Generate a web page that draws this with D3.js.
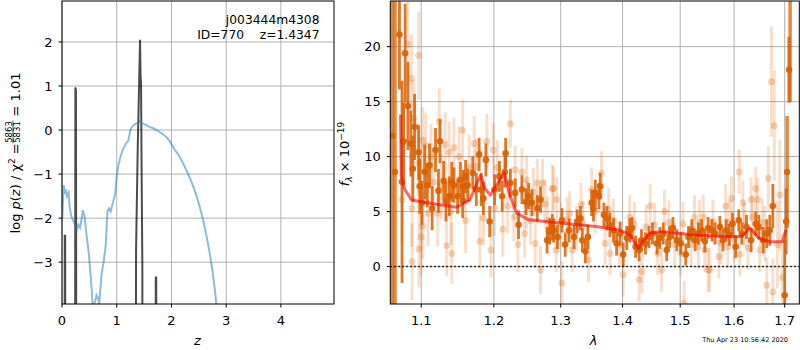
<!DOCTYPE html>
<html>
<head>
<meta charset="utf-8">
<script src="https://cdn.jsdelivr.net/npm/d3@7"></script>
<style>
body { margin: 0; background: #fff; }
svg { display: block; font-family: "DejaVu Sans", sans-serif; }
</style>
</head>
<body>
<svg id="fig" width="800" height="350"></svg>
<script>
// ---- left panel: redshift probability ----
var zTicks = [0, 1, 2, 3, 4];
var logpTicks = [-3, -2, -1, 0, 1, 2];

// broad log p(z) curve (blue)
var curveZ = [0.005, 0.03, 0.05, 0.07, 0.09, 0.12, 0.14, 0.17, 0.2, 0.24, 0.27, 0.3, 0.33, 0.36, 0.38, 0.41, 0.45, 0.49,
  0.53, 0.56, 0.6, 0.63, 0.66, 0.68, 0.72, 0.76, 0.8, 0.83, 0.86, 0.89, 0.93, 0.97, 1.0, 1.03, 1.07, 1.12, 1.17, 1.21,
  1.25, 1.28, 1.33, 1.38, 1.42, 1.46, 1.52, 1.57, 1.6, 1.67, 1.73, 1.79, 1.85, 1.91, 1.96, 2.01, 2.06, 2.12, 2.17, 2.23,
  2.28, 2.34, 2.4, 2.46, 2.52, 2.58, 2.64, 2.7, 2.75, 2.8, 2.83];
var curveLogP = [-2.0, -1.25, -1.45, -1.35, -1.5, -1.42, -1.75, -1.95, -2.05, -2.15, -2.27, -2.15, -2.22, -2.0, -1.82, -1.95, -2.4, -2.8,
  -3.4, -3.95, -3.92, -3.75, -3.82, -3.95, -3.3, -3.0, -2.6, -1.85, -1.78, -1.85, -1.65, -1.45, -1.05, -0.8, -0.6, -0.42, -0.3, -0.25,
  0.0, 0.08, 0.13, 0.16, 0.2, 0.15, 0.13, 0.09, 0.07, 0.04, 0.0, -0.05, -0.1, -0.16, -0.24, -0.34, -0.45, -0.55, -0.65, -0.8,
  -0.93, -1.1, -1.29, -1.5, -1.76, -2.05, -2.4, -2.8, -3.2, -3.7, -4.1];

// narrow spikes (black), -10 means off the bottom of the axes
var spikeZ = [0, 0.045, 0.05, 0.058, 0.063, 0.235, 0.245, 0.255, 0.265, 1.345, 1.353, 1.384, 1.426, 1.436, 1.444, 1.452,
  1.468, 1.475, 1.708, 1.713, 1.722, 1.727, 4.97];
var spikeLogP = [-10, -10, -2.4, -2.4, -10, -10, 0.97, 0.9, -10, -10, -2.75, -0.4, 2.05, 1.2, 1.1, -0.5,
  -3, -10, -10, -3.35, -3.35, -10, -10];

// ---- right panel: spectrum ----
var lamTicks = [1.1, 1.2, 1.3, 1.4, 1.5, 1.6, 1.7];
var fluxTicks = [0, 5, 10, 15, 20];

// [lambda, flux, err]
var darkPts = [
  [1.0717, 21.1, 5.0], [1.0790, 19.4, 4.5], [1.0826, 14.6, 4.0], [1.0750, 7.7, 9.2], [1.0770, 11.4, 3.5],
  [1.0864, 11.2, 3.0], [1.0890, 8.9, 3.0], [1.0913, 12.7, 3.0], [1.0966, 10.4, 2.5], [1.0980, 7.3, 2.5],
  [1.1010, 5.8, 2.0], [1.1045, 8.6, 2.5], [1.1080, 7.4, 2.0], [1.1110, 9.2, 2.0], [1.1145, 5.3, 2.0],
  [1.1190, 10.6, 2.0], [1.1230, 6.9, 2.0], [1.1250, 11.4, 2.0], [1.1300, 7.8, 1.8], [1.1330, 5.9, 1.8],
  [1.1375, 6.4, 1.8], [1.1410, 7.7, 1.8], [1.1440, 7.4, 1.6], [1.1490, 6.4, 1.6], [1.1530, 7.9, 1.6],
  [1.1560, 6.0, 1.6], [1.1570, 7.3, 1.5], [1.1600, 8.2, 1.5], [1.1630, 7.4, 1.5],
  [1.170, 8.5, 1.5], [1.175, 7.0, 1.5], [1.179, 10.2, 1.5], [1.182, 7.0, 1.5], [1.185, 6.2, 1.5],
  [1.1885, 9.7, 1.5], [1.194, 4.1, 1.4], [1.201, 7.0, 1.4], [1.208, 8.2, 1.4], [1.212, 6.4, 1.4],
  [1.216, 8.6, 1.4], [1.217, 10.3, 1.4], [1.224, 7.6, 1.3], [1.231, 6.7, 1.3], [1.236, 3.8, 1.3],
  [1.241, 7.0, 1.3], [1.247, 5.9, 1.2], [1.251, 6.4, 1.2], [1.256, 5.8, 1.2], [1.264, 5.3, 1.2],
  [1.269, 6.1, 1.2], [1.279, 2.4, 1.2], [1.283, 3.2, 1.2], [1.287, 3.6, 1.2],
  [1.289, 3.3, 1.1], [1.295, 2.7, 1.1], [1.302, 4.2, 1.1], [1.307, 2.0, 1.1], [1.313, 3.3, 1.1],
  [1.321, 2.7, 1.1], [1.326, 4.1, 1.1], [1.331, 4.4, 1.1], [1.334, 2.4, 1.1], [1.339, 1.4, 1.1],
  [1.343, 2.7, 1.1], [1.349, 5.8, 1.2], [1.352, 5.3, 1.2], [1.355, 6.7, 1.2], [1.361, 6.4, 1.2],
  [1.363, 7.3, 1.2], [1.369, 4.7, 1.1], [1.374, 4.4, 1.1], [1.379, 3.8, 1.1], [1.385, 3.3, 1.1],
  [1.390, 2.1, 1.1], [1.396, 3.0, 1.1], [1.401, 1.1, 1.1], [1.407, 2.6, 1.1], [1.412, 3.3, 1.1],
  [1.416, 3.5, 1.0], [1.422, 1.8, 1.0], [1.428, 1.5, 1.0], [1.432, 2.4, 1.0], [1.439, 2.1, 1.0],
  [1.445, 2.7, 1.0], [1.451, 3.0, 1.0], [1.459, 2.1, 1.0], [1.464, 2.6, 1.0], [1.470, 3.0, 1.0],
  [1.476, 1.5, 1.0], [1.481, 2.7, 1.0], [1.487, 3.5, 1.0], [1.494, 2.4, 1.0], [1.501, 2.1, 1.0],
  [1.510, 1.1, 1.0], [1.515, 2.7, 1.0], [1.521, 3.3, 1.0], [1.527, 2.4, 1.0], [1.533, 3.0, 1.0],
  [1.539, 3.3, 1.0], [1.545, 2.3, 1.0], [1.551, 3.5, 1.0],
  [1.558, 3.3, 1.0], [1.564, 3.0, 1.0], [1.573, 3.6, 1.0], [1.579, 2.4, 1.0], [1.585, 3.3, 1.0],
  [1.591, 2.9, 1.0], [1.597, 3.9, 1.0], [1.603, 1.8, 1.0], [1.609, 4.2, 1.0], [1.615, 3.0, 1.0],
  [1.624, 3.6, 1.1], [1.633, 2.4, 1.1], [1.642, 3.9, 1.1], [1.648, 3.6, 1.1], [1.657, 2.4, 1.2],
  [1.664, 3.0, 1.3], [1.670, 3.3, 1.4], [1.676, 5.5, 2.0], [1.700, -2.6, 5.0], [1.703, 4.1, 3.0]
];

var lightPts = [
  [1.0825, 20.2, 4], [1.0966, 19.2, 4], [1.0870, 17.1, 4], [1.0904, 13.5, 3.5], [1.1020, 11.5, 3],
  [1.1060, 11.0, 3], [1.1320, 11.1, 3], [1.1240, 13.2, 3], [1.1560, 12.4, 2.8], [1.1440, 10.8, 2.8],
  [1.1375, 10.4, 2.8], [1.1510, 10.0, 2.8], [1.1340, 1.9, 2.8], [1.1410, 1.2, 2.8], [1.0880, 0.45, 3.5],
  [1.0970, 1.6, 3.5], [1.1000, 2.7, 3.5], [1.1020, 3.7, 3], [1.0880, 5.3, 3.5], [1.0750, 6.1, 4],
  [1.0960, 9.4, 3], [1.1130, 10.0, 3], [1.1160, 7.7, 3], [1.1270, 7.3, 3], [1.1220, 4.85, 3],
  [1.1090, 4.85, 3], [1.140, 5.0, 3], [1.160, 4.2, 3], [1.165, 9.0, 3],
  [1.172, 11.2, 2.5], [1.175, 9.1, 2.5], [1.190, 11.4, 2.5], [1.199, 10.6, 2.5], [1.224, 13.0, 2.2],
  [1.201, 5.3, 2.5], [1.185, 4.4, 2.5], [1.180, 2.3, 2.5], [1.196, 1.5, 2.5], [1.213, 3.4, 2.5],
  [1.205, 9.0, 2.5], [1.220, 5.5, 2.5], [1.235, 2.0, 2.5],
  [1.231, 8.8, 2.2], [1.241, 8.6, 2.2], [1.248, 7.9, 2.2], [1.264, 7.6, 2.2], [1.272, 7.6, 2.2],
  [1.287, 7.1, 2.2], [1.248, 5.6, 2.2], [1.261, 2.1, 2.2], [1.245, 3.0, 2.2], [1.229, 4.5, 2.2],
  [1.269, -0.3, 2.2], [1.254, 4.2, 2.2], [1.276, 5.7, 2.2], [1.258, 6.8, 2.2], [1.280, 4.2, 2.2],
  [1.289, 7.1, 2], [1.294, 6.1, 2], [1.302, -1.5, 2], [1.314, 4.85, 2], [1.332, 5.6, 2],
  [1.349, 7.0, 2], [1.365, 8.5, 2], [1.371, 2.1, 2], [1.379, 1.2, 2], [1.344, 0.6, 2],
  [1.318, 1.5, 2], [1.293, 1.5, 2], [1.401, -0.75, 2], [1.412, 4.5, 2], [1.377, 5.2, 2],
  [1.355, 5.0, 2], [1.300, 3.8, 2], [1.310, 4.3, 2], [1.325, 3.5, 2], [1.335, 4.0, 2],
  [1.385, 4.2, 2], [1.395, 2.0, 2],
  [1.447, 5.5, 2], [1.472, 5.0, 2], [1.428, -1.2, 2], [1.433, -0.45, 2], [1.507, -3.3, 2],
  [1.551, -0.3, 2], [1.467, -0.3, 2], [1.526, 4.5, 2], [1.542, 4.5, 2], [1.501, 1.2, 2],
  [1.533, 1.8, 2], [1.420, 3.9, 2], [1.440, 3.6, 2], [1.455, 3.8, 2], [1.460, 1.2, 2],
  [1.480, 4.0, 2], [1.490, 2.0, 2], [1.505, 3.9, 2], [1.520, 2.0, 2], [1.535, 4.0, 2],
  [1.545, 1.5, 2], [1.560, 4.1, 2], [1.575, 2.2, 2], [1.590, 4.0, 2], [1.600, 2.5, 2],
  [1.620, 3.8, 2],
  [1.610, 8.6, 2], [1.595, 6.2, 2], [1.617, 5.8, 2], [1.633, 6.1, 2], [1.642, 7.1, 2],
  [1.646, 6.1, 2], [1.584, 5.5, 2], [1.554, -0.3, 2], [1.571, 0.9, 2], [1.611, 1.1, 2],
  [1.627, 1.7, 2], [1.650, 1.5, 2], [1.588, 1.8, 2], [1.636, 4.5, 2], [1.655, 4.0, 2.2],
  [1.660, 3.0, 2.5], [1.664, -1.7, 2.5], [1.667, 8.0, 3], [1.673, 16.8, 5], [1.679, 12.8, 5],
  [1.676, -2.3, 3], [1.685, 2.0, 4], [1.690, 6.5, 5], [1.695, -1.0, 4]
];

// noisy ends of the grism with huge error bars
var edgePts = [
  [1.0625, 11.9, 40], [1.0660, 8.6, 30], [1.705, 8.6, 5.1], [1.709, 17.9, 3.0], [1.711, 26, 11]
];

// best-fit model (red)
var modelLam = [1.073, 1.074, 1.0787, 1.0874, 1.1115, 1.147, 1.166, 1.174, 1.181, 1.188, 1.195, 1.204, 1.215,
  1.2236, 1.2334, 1.251, 1.302, 1.356, 1.394, 1.413, 1.421, 1.427, 1.436, 1.447, 1.467, 1.496, 1.526, 1.556,
  1.588, 1.614, 1.631, 1.648, 1.669, 1.696, 1.702];
var modelFlux = [13.8, 8.2, 7.0, 6.06, 5.76, 5.4, 6.06, 7.3, 8.3, 7.0, 6.5, 7.4, 8.5,
  6.36, 4.85, 4.25, 3.95, 3.64, 3.33, 2.88, 2.12, 1.67, 2.42, 3.03, 3.18, 3.03, 2.88, 2.79,
  2.73, 2.73, 3.49, 2.58, 2.27, 2.27, 3.33];

var orange = "#d95f02";
var fig = d3.select("#fig");

function minus(v) {
    return v < 0 ? "\u2212" + Math.abs(v) : String(v);
}

/*
  drawGrid / drawFrame

  box: {x0, x1, y0, y1} in pixels, x, y: scales
  Grid sits under the data, frame and ticks on top.
*/
function drawGrid(box, x, y, xt, yt) {
    var g = fig.append("g").attr("stroke", "#b0b0b0").attr("stroke-width", 1);
    g.selectAll(".gx").data(xt).enter().append("line")
        .attr("x1", function(d) { return x(d); })
        .attr("x2", function(d) { return x(d); })
        .attr("y1", box.y0).attr("y2", box.y1);
    g.selectAll(".gy").data(yt).enter().append("line")
        .attr("y1", function(d) { return y(d); })
        .attr("y2", function(d) { return y(d); })
        .attr("x1", box.x0).attr("x2", box.x1);
}

function drawFrame(box, x, y, xt, yt, xfmt, yfmt) {
    var g = fig.append("g");
    g.append("rect")
        .attr("x", box.x0).attr("y", box.y0)
        .attr("width", box.x1 - box.x0).attr("height", box.y1 - box.y0)
        .attr("fill", "none").attr("stroke", "black").attr("stroke-width", 1);
    g.selectAll(".tx").data(xt).enter().append("line")
        .attr("x1", function(d) { return x(d); })
        .attr("x2", function(d) { return x(d); })
        .attr("y1", box.y1).attr("y2", box.y1 + 3.5)
        .attr("stroke", "black");
    g.selectAll(".ty").data(yt).enter().append("line")
        .attr("y1", function(d) { return y(d); })
        .attr("y2", function(d) { return y(d); })
        .attr("x1", box.x0 - 3.5).attr("x2", box.x0)
        .attr("stroke", "black");
    g.selectAll(".lx").data(xt).enter().append("text")
        .attr("x", function(d) { return x(d); })
        .attr("y", box.y1 + 20.5)
        .attr("text-anchor", "middle")
        .attr("font-size", 13)
        .text(xfmt);
    g.selectAll(".ly").data(yt).enter().append("text")
        .attr("x", box.x0 - 9.5)
        .attr("y", function(d) { return y(d) + 4.7; })
        .attr("text-anchor", "end")
        .attr("font-size", 13)
        .text(yfmt);
}

function clipped(id, box) {
    fig.append("clipPath").attr("id", id).append("rect")
        .attr("x", box.x0).attr("y", box.y0)
        .attr("width", box.x1 - box.x0).attr("height", box.y1 - box.y0);
    return fig.append("g").attr("clip-path", "url(#" + id + ")");
}

// append tspans: [text, size, dy, italic]
function richText(t, parts) {
    parts.forEach(function(p) {
        t.append("tspan")
            .attr("font-size", p[1])
            .attr("dy", p[2] || 0)
            .attr("font-style", p[3] ? "italic" : null)
            .text(p[0]);
    });
    return t;
}

// ================= left panel =================
var LB = {x0: 62, x1: 334, y0: 1, y1: 304};
var xz = d3.scaleLinear().domain([0, 4.97]).range([LB.x0, LB.x1]);
var yz = d3.scaleLinear().domain([-3.95, 2.93]).range([LB.y1, LB.y0]);

drawGrid(LB, xz, yz, zTicks, logpTicks);
var lp = clipped("clipL", LB);

lp.append("path")
    .datum(d3.range(spikeZ.length))
    .attr("d", d3.line()
          .x(function(i) { return xz(spikeZ[i]); })
          .y(function(i) { return yz(spikeLogP[i]); }))
    .attr("fill", "none").attr("stroke", "black")
    .attr("stroke-opacity", 0.7).attr("stroke-width", 2);

lp.append("path")
    .datum(d3.range(curveZ.length))
    .attr("d", d3.line()
          .x(function(i) { return xz(curveZ[i]); })
          .y(function(i) { return yz(curveLogP[i]); }))
    .attr("fill", "none").attr("stroke", "#1f77b4")
    .attr("stroke-opacity", 0.5).attr("stroke-width", 2);

drawFrame(LB, xz, yz, zTicks, logpTicks, minus, minus);

fig.append("text").attr("x", 319.5).attr("y", 23.5)
    .attr("text-anchor", "end").attr("font-size", 12.3)
    .text("j003444m4308");
fig.append("text").attr("x", 319.5).attr("y", 39)
    .attr("text-anchor", "end").attr("font-size", 12.3)
    .style("white-space", "pre")
    .text("ID=770    z=1.4347");

fig.append("text").attr("x", 197.5).attr("y", 344.5)
    .attr("text-anchor", "middle").attr("font-size", 13)
    .attr("font-style", "italic").text("z");

// y label with a stacked fraction
var ylab = fig.append("g").attr("transform", "translate(20,153) rotate(-90)");
var partA = richText(ylab.append("text").attr("font-size", 13),
    [["log ", 13], ["p", 13, 0, true], ["(", 13], ["z", 13, 0, true], [") / ", 13],
     ["\u03c7", 13], ["2", 9, -5], [" = ", 13, 5]]);
var wA = partA.node().getComputedTextLength();
var num = ylab.append("text").attr("font-size", 8.5).attr("y", -8.2).text("5863");
var den = ylab.append("text").attr("font-size", 8.5).attr("y", 0).text("5831");
var wF = Math.max(num.node().getComputedTextLength(), den.node().getComputedTextLength()) + 1;
var partC = ylab.append("text").attr("font-size", 13).style("white-space", "pre").text(" = 1.01");
var wC = partC.node().getComputedTextLength();
var start = -(wA + wF + wC) / 2;
partA.attr("x", start);
num.attr("x", start + wA + 0.5);
den.attr("x", start + wA + 0.5);
ylab.append("line")
    .attr("x1", start + wA).attr("x2", start + wA + wF)
    .attr("y1", -7).attr("y2", -7)
    .attr("stroke", "black").attr("stroke-width", 0.7);
partC.attr("x", start + wA + wF);

// ================= right panel =================
var RB = {x0: 390.3, x1: 799.3, y0: 1, y1: 304};
var xl = d3.scaleLog().domain([1.06, 1.73]).range([RB.x0, RB.x1]);
var yf = d3.scaleLinear().domain([-3.4, 24.15]).range([RB.y1, RB.y0]);

drawGrid(RB, xl, yf, lamTicks, fluxTicks);
var rp = clipped("clipR", RB);

function errorPoints(g, pts, barW, barA, dotA, r) {
    g.selectAll(null).data(pts).enter().append("line")
        .attr("x1", function(d) { return xl(d[0]); })
        .attr("x2", function(d) { return xl(d[0]); })
        .attr("y1", function(d) { return yf(d[1] - d[2]); })
        .attr("y2", function(d) { return yf(d[1] + d[2]); })
        .attr("stroke", orange).attr("stroke-opacity", barA)
        .attr("stroke-width", barW);
    if (r > 0) {
        g.selectAll(null).data(pts).enter().append("circle")
            .attr("cx", function(d) { return xl(d[0]); })
            .attr("cy", function(d) { return yf(d[1]); })
            .attr("r", r)
            .attr("fill", orange).attr("fill-opacity", dotA);
    }
}

errorPoints(rp.append("g"), lightPts, 3, 0.2, 0.25, 3.5);
errorPoints(rp.append("g"), edgePts, 3.5, 0.75, 0.9, 3.2);
errorPoints(rp.append("g"), darkPts, 2.8, 0.85, 0.9, 3.3);

rp.append("line")
    .attr("x1", RB.x0).attr("x2", RB.x1)
    .attr("y1", yf(0)).attr("y2", yf(0))
    .attr("stroke", "black").attr("stroke-width", 1.5)
    .attr("stroke-dasharray", "1.5,2.5");

rp.append("path")
    .datum(d3.range(modelLam.length))
    .attr("d", d3.line()
          .x(function(i) { return xl(modelLam[i]); })
          .y(function(i) { return yf(modelFlux[i]); }))
    .attr("fill", "none").attr("stroke", "red")
    .attr("stroke-opacity", 0.6).attr("stroke-width", 3)
    .attr("stroke-linejoin", "round");

drawFrame(RB, xl, yf, lamTicks, fluxTicks, function(d) { return d.toFixed(1); }, minus);

fig.append("text").attr("x", 593.5).attr("y", 345)
    .attr("text-anchor", "middle").attr("font-size", 13)
    .attr("font-style", "italic").text("\u03bb");

var flab = richText(fig.append("text")
    .attr("transform", "translate(349,154) rotate(-90)")
    .attr("text-anchor", "middle").attr("font-size", 13)
    .style("white-space", "pre"),
    [["f", 13, 0, true], ["\u03bb", 9, 3, true], [" \u00d7 10", 13, -3], ["\u221219", 9, -5]]);

fig.append("text").attr("x", 788).attr("y", 342)
    .attr("text-anchor", "end").attr("font-size", 6.5)
    .text("Thu Apr 23 10:56:42 2020");
</script>
</body>
</html>
